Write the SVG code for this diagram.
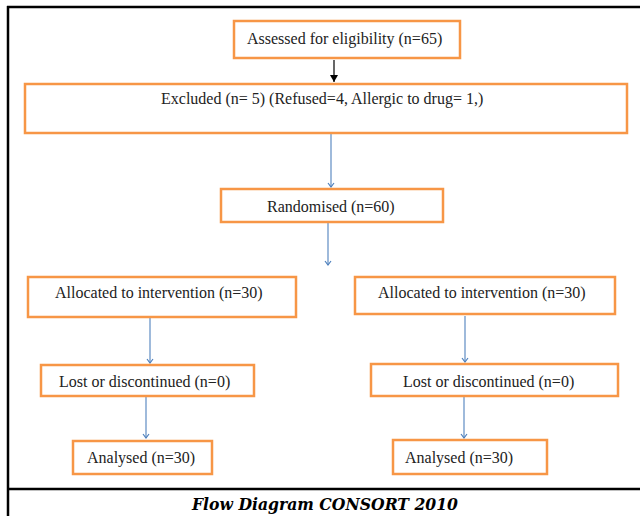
<svg xmlns="http://www.w3.org/2000/svg" width="640" height="516" viewBox="0 0 640 516">
<defs>
<style>
.box{fill:#fff;stroke:#F79646;stroke-width:2.5}
.t{font-family:"Liberation Serif","Times New Roman",serif;font-size:16px;fill:#222}
.blue{stroke:#4F81BD;stroke-width:1.1;fill:none}
.frame{stroke:#000;stroke-width:2.5;fill:none}
</style>
<marker id="ab" viewBox="0 0 8 8" refX="7" refY="4" markerWidth="8" markerHeight="8" markerUnits="userSpaceOnUse" orient="auto">
<path d="M3,1 L7,4 L3,7" fill="none" stroke="#4F81BD" stroke-width="1.2"/>
</marker>
<marker id="ak" viewBox="0 0 10 10" refX="5" refY="9" markerWidth="10" markerHeight="10" markerUnits="userSpaceOnUse">
<path d="M1,2 L9,2 L5,9 Z" fill="#000"/>
</marker>
</defs>
<rect width="640" height="516" fill="#fff"/>
<g id="frame">
<line class="frame" x1="7" y1="7" x2="640" y2="7"/>
<line class="frame" x1="8" y1="6" x2="8" y2="516"/>
<line class="frame" x1="8" y1="489" x2="640" y2="489"/>
</g>
<g id="connectors">
<line x1="334" y1="60" x2="334" y2="82" stroke="#000" stroke-width="1.2" marker-end="url(#ak)"/>
<line class="blue" x1="331" y1="134" x2="331" y2="187" marker-end="url(#ab)"/>
<line class="blue" x1="328" y1="223" x2="328" y2="265" marker-end="url(#ab)"/>
<line class="blue" x1="150" y1="318" x2="150" y2="363" marker-end="url(#ab)"/>
<line class="blue" x1="146" y1="397" x2="146" y2="438" marker-end="url(#ab)"/>
<line class="blue" x1="465" y1="316" x2="465" y2="362" marker-end="url(#ab)"/>
<line class="blue" x1="464" y1="397" x2="464" y2="438" marker-end="url(#ab)"/>
</g>
<g id="assessed">
<rect class="box" x="234" y="21" width="226" height="37"/>
<text class="t" x="247" y="44">Assessed for eligibility (n=65)</text>
</g>
<g id="excluded">
<rect class="box" x="25" y="84" width="602" height="49"/>
<text class="t" x="161" y="104">Excluded (n= 5) (Refused=4, Allergic to drug= 1,)</text>
</g>
<g id="randomised">
<rect class="box" x="221" y="189" width="222" height="33"/>
<text class="t" x="267" y="212">Randomised (n=60)</text>
</g>
<g id="alloc-left">
<rect class="box" x="28" y="277" width="268" height="40"/>
<text class="t" x="55" y="298">Allocated to intervention (n=30)</text>
</g>
<g id="alloc-right">
<rect class="box" x="355" y="277" width="260" height="37"/>
<text class="t" x="378" y="298">Allocated to intervention (n=30)</text>
</g>
<g id="lost-left">
<rect class="box" x="41" y="365" width="213" height="31"/>
<text class="t" x="59" y="387">Lost or discontinued (n=0)</text>
</g>
<g id="lost-right">
<rect class="box" x="371" y="364" width="247" height="32"/>
<text class="t" x="403" y="387">Lost or discontinued (n=0)</text>
</g>
<g id="analysed-left">
<rect class="box" x="73" y="441" width="139" height="33"/>
<text class="t" x="87" y="463">Analysed (n=30)</text>
</g>
<g id="analysed-right">
<rect class="box" x="393" y="440" width="154" height="34"/>
<text class="t" x="405" y="463">Analysed (n=30)</text>
</g>
<g id="title">
<text x="325" y="510" text-anchor="middle" font-family="'DejaVu Serif','Liberation Serif',serif" font-size="16" font-weight="bold" font-style="italic" textLength="266" lengthAdjust="spacingAndGlyphs" fill="#000">Flow Diagram CONSORT 2010</text>
</g>
</svg>
